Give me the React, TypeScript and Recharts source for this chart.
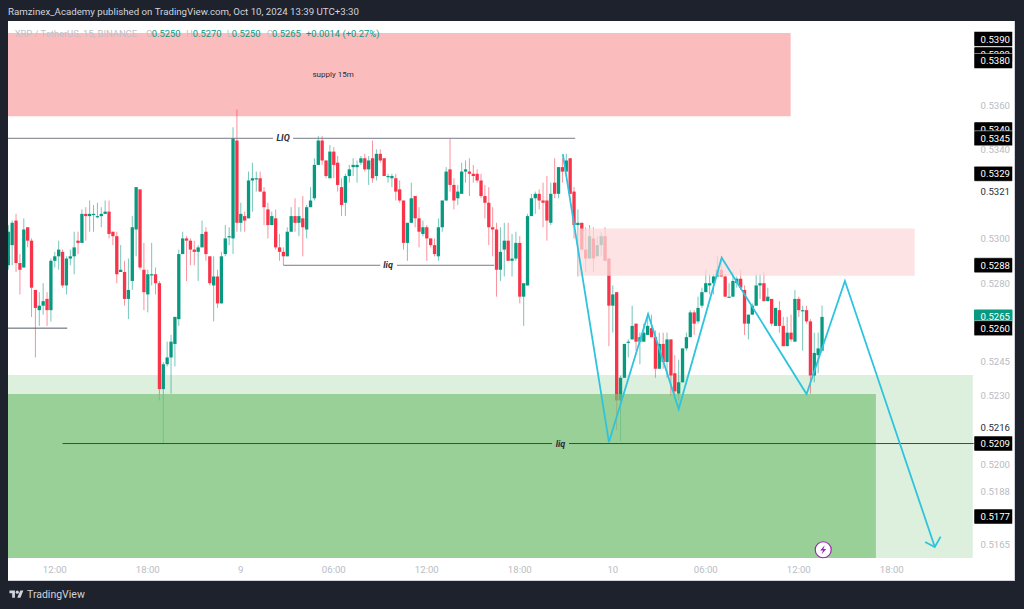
import {
  Bar,
  ComposedChart,
  Label,
  Line,
  ReferenceArea,
  ReferenceDot,
  ReferenceLine,
  XAxis,
  YAxis,
} from 'recharts';

// XRP/USDT 15m candles, prices in 1/10000 USDT
const opens = [
  5288, 5297, 5308, 5289, 5287, 5305, 5299, 5277, 5268, 5270,
  5273, 5268, 5290, 5292, 5294, 5279, 5291, 5292, 5299, 5298,
  5311, 5310, 5311, 5310, 5310, 5311, 5312, 5303, 5301, 5285,
  5285, 5273, 5281, 5304, 5322, 5286, 5275, 5284, 5284, 5280,
  5233, 5244, 5247, 5253, 5264, 5293, 5300, 5299, 5295, 5294,
  5296, 5303, 5292, 5279, 5283, 5271, 5293, 5301, 5300, 5344,
  5307, 5310, 5309, 5326, 5327, 5327, 5321, 5313, 5306, 5309,
  5296, 5294, 5292, 5303, 5310, 5307, 5309, 5304, 5314, 5318,
  5333, 5344, 5335, 5327, 5339, 5334, 5323, 5316, 5328, 5332,
  5332, 5334, 5336, 5331, 5336, 5328, 5338, 5336, 5328, 5327,
  5327, 5322, 5317, 5298, 5307, 5319, 5309, 5302, 5305, 5300,
  5297, 5292, 5305, 5317, 5331, 5324, 5318, 5320, 5330, 5330,
  5329, 5329, 5326, 5319, 5316, 5305, 5304, 5286, 5295, 5299,
  5290, 5291, 5298, 5274, 5279, 5310, 5318, 5320, 5317, 5317,
  5307, 5325, 5320, 5332, 5330, 5336, 5321, 5306, 5307, 5295,
  5291, 5300, 5292, 5297, 5301, 5291, 5270, 5276, 5228, 5238,
  5254, 5255, 5262, 5254, 5254, 5257, 5260, 5256, 5242, 5253,
  5245, 5255, 5240, 5231, 5236, 5251, 5256, 5267, 5263, 5270,
  5276, 5279, 5280, 5283, 5286, 5283, 5274, 5274, 5280, 5282,
  5277, 5262, 5266, 5270, 5279, 5280, 5272, 5273, 5261, 5268,
  5261, 5252, 5258, 5254, 5273, 5268, 5268, 5263, 5239, 5248, 5250,
];
const highs = [
  5306, 5308, 5311, 5293, 5309, 5305, 5300, 5277, 5276, 5280,
  5276, 5291, 5294, 5299, 5295, 5292, 5295, 5303, 5303, 5313,
  5314, 5317, 5315, 5316, 5314, 5317, 5317, 5303, 5303, 5297,
  5290, 5291, 5310, 5323, 5322, 5298, 5286, 5298, 5287, 5281,
  5245, 5254, 5257, 5265, 5295, 5303, 5301, 5300, 5299, 5297,
  5308, 5305, 5292, 5292, 5286, 5294, 5306, 5305, 5350, 5358,
  5316, 5312, 5330, 5334, 5330, 5330, 5323, 5316, 5312, 5313,
  5302, 5296, 5305, 5314, 5318, 5314, 5319, 5315, 5323, 5336,
  5346, 5346, 5335, 5342, 5341, 5337, 5327, 5329, 5333, 5336,
  5335, 5337, 5338, 5337, 5344, 5340, 5340, 5336, 5329, 5329,
  5329, 5326, 5317, 5307, 5325, 5319, 5314, 5308, 5306, 5300,
  5300, 5309, 5317, 5332, 5345, 5327, 5324, 5334, 5335, 5336,
  5333, 5331, 5329, 5324, 5323, 5314, 5307, 5305, 5307, 5307,
  5302, 5303, 5301, 5280, 5311, 5320, 5321, 5322, 5325, 5328,
  5325, 5336, 5332, 5336, 5338, 5336, 5323, 5313, 5307, 5305,
  5306, 5305, 5301, 5303, 5305, 5291, 5279, 5276, 5239, 5253,
  5255, 5270, 5262, 5258, 5262, 5266, 5266, 5259, 5258, 5258,
  5258, 5255, 5248, 5246, 5251, 5258, 5268, 5268, 5274, 5278,
  5286, 5284, 5284, 5292, 5292, 5284, 5280, 5285, 5283, 5286,
  5279, 5266, 5271, 5284, 5284, 5285, 5278, 5273, 5269, 5272,
  5265, 5265, 5266, 5277, 5274, 5270, 5270, 5264, 5258, 5258, 5270,
];
const lows = [
  5286, 5288, 5285, 5275, 5287, 5296, 5265, 5247, 5261, 5266,
  5261, 5263, 5287, 5286, 5278, 5275, 5288, 5284, 5293, 5298,
  5299, 5303, 5303, 5309, 5305, 5311, 5300, 5297, 5280, 5285,
  5270, 5264, 5277, 5292, 5286, 5268, 5267, 5279, 5275, 5228,
  5209, 5243, 5231, 5243, 5261, 5293, 5281, 5288, 5288, 5281,
  5296, 5290, 5279, 5263, 5269, 5271, 5292, 5297, 5293, 5303,
  5303, 5303, 5309, 5312, 5321, 5321, 5306, 5300, 5306, 5295,
  5290, 5288, 5292, 5303, 5303, 5301, 5292, 5300, 5314, 5317,
  5333, 5333, 5327, 5327, 5327, 5321, 5310, 5310, 5325, 5328,
  5325, 5333, 5330, 5324, 5325, 5326, 5334, 5328, 5325, 5323,
  5317, 5316, 5295, 5290, 5307, 5305, 5296, 5301, 5290, 5296,
  5292, 5290, 5303, 5317, 5321, 5313, 5315, 5320, 5325, 5319,
  5325, 5325, 5318, 5309, 5297, 5292, 5274, 5281, 5283, 5290,
  5283, 5290, 5271, 5261, 5279, 5310, 5311, 5313, 5305, 5299,
  5306, 5318, 5318, 5325, 5330, 5320, 5300, 5283, 5295, 5285,
  5291, 5285, 5292, 5292, 5290, 5252, 5258, 5215, 5210, 5238,
  5247, 5255, 5250, 5244, 5254, 5257, 5256, 5238, 5242, 5242,
  5238, 5230, 5230, 5228, 5236, 5250, 5256, 5257, 5262, 5269,
  5276, 5275, 5275, 5283, 5283, 5274, 5274, 5274, 5278, 5277,
  5257, 5255, 5266, 5270, 5273, 5272, 5272, 5261, 5261, 5258,
  5252, 5252, 5254, 5254, 5265, 5250, 5262, 5231, 5236, 5240, 5250,
];
const closes = [
  5303, 5307, 5289, 5286, 5304, 5299, 5278, 5269, 5270, 5272,
  5268, 5290, 5292, 5295, 5279, 5291, 5292, 5296, 5298, 5311,
  5310, 5311, 5311, 5310, 5311, 5312, 5302, 5301, 5284, 5286,
  5273, 5277, 5305, 5323, 5287, 5276, 5284, 5284, 5280, 5233,
  5244, 5247, 5254, 5265, 5293, 5300, 5299, 5295, 5294, 5296,
  5302, 5293, 5280, 5283, 5271, 5292, 5300, 5301, 5345, 5307,
  5311, 5308, 5326, 5327, 5327, 5321, 5314, 5306, 5310, 5296,
  5294, 5292, 5303, 5310, 5307, 5310, 5305, 5314, 5317, 5333,
  5344, 5335, 5328, 5339, 5333, 5324, 5315, 5328, 5331, 5333,
  5333, 5336, 5331, 5335, 5327, 5338, 5335, 5328, 5328, 5328,
  5321, 5317, 5298, 5307, 5318, 5309, 5303, 5305, 5300, 5297,
  5293, 5305, 5317, 5330, 5324, 5317, 5321, 5330, 5331, 5329,
  5328, 5326, 5319, 5316, 5305, 5304, 5286, 5294, 5299, 5290,
  5291, 5298, 5274, 5280, 5310, 5318, 5320, 5317, 5316, 5308,
  5320, 5320, 5332, 5330, 5335, 5320, 5306, 5307, 5295, 5291,
  5301, 5291, 5297, 5301, 5290, 5270, 5275, 5228, 5238, 5253,
  5254, 5261, 5254, 5256, 5258, 5261, 5256, 5242, 5253, 5245,
  5255, 5239, 5232, 5236, 5251, 5256, 5267, 5262, 5269, 5276,
  5280, 5280, 5283, 5286, 5283, 5274, 5274, 5281, 5282, 5278,
  5262, 5266, 5270, 5279, 5280, 5272, 5274, 5262, 5269, 5261,
  5252, 5258, 5255, 5273, 5268, 5268, 5263, 5239, 5249, 5251, 5265,
];

const candles = opens.map((open, slot) => ({
  slot,
  open: open / 10000,
  close: closes[slot] / 10000,
  range: [lows[slot] / 10000, highs[slot] / 10000],
}));

// time axis: one slot per 15 minutes
const timeSlots = [12, 36, 60, 84, 108, 132, 156, 180, 204, 228];
const timeLabels = ['12:00', '18:00', '9', '06:00', '12:00', '18:00', '10', '06:00', '12:00', '18:00'];

// price axis, in drawing order (later ones cover earlier ones)
const plainTicks = [0.536, 0.534, 0.53, 0.528, 0.5245, 0.523, 0.52, 0.5188, 0.5165];
const darkTicks = [0.5321, 0.5216];
const lastPrice = 0.5265;
const boxTicks = [0.539, 0.5383, 0.538, 0.5349, 0.5345, 0.5329, 0.5288, 0.526, 0.5209, 0.5177];
const priceTicks = [...plainTicks, ...darkTicks, lastPrice, ...boxTicks];

// hand drawn wave and arrow head
const wavePoints = [
  { slot: 143.1, price: 0.53379 },
  { slot: 155, price: 0.52096 },
  { slot: 165.1, price: 0.52663 },
  { slot: 173, price: 0.52242 },
  { slot: 184.1, price: 0.52914 },
  { slot: 206, price: 0.52308 },
  { slot: 215.9, price: 0.5281 },
  { slot: 239.1, price: 0.51637 },
];
const arrowPoints = [
  { slot: 236.6, price: 0.51659 },
  { slot: 239.1, price: 0.51637 },
  { slot: 240.6, price: 0.51682 },
];

const SLOT_MIN = -0.08;
const SLOT_MAX = 249.47;
const PRICE_MIN = 0.51589;
const PRICE_MAX = 0.53982;

const UP = '#089981';
const DOWN = '#f7344a';
const WAVE = '#2fc4de';
const TEXT_FONT = 'Roboto, sans-serif';
const BODY_WIDTH = 3.3;

function Candle(props: any) {
  const { x, y, width, height, payload } = props;
  const [low, high] = payload.range;
  const wickTop = Math.min(y, y + height);
  const wickLength = Math.abs(height);
  // the axis is logarithmic, so place the body on the same log ratio
  const at = (p: number) => wickTop + (wickLength * Math.log(high / p)) / Math.log(high / low);
  const color = payload.close >= payload.open ? UP : DOWN;
  const top = at(Math.max(payload.open, payload.close));
  const bottom = at(Math.min(payload.open, payload.close));
  const mid = x + width / 2;
  return (
    <g>
      <line x1={mid} x2={mid} y1={wickTop} y2={wickTop + wickLength} stroke={color} strokeOpacity={0.55} />
      <rect x={mid - BODY_WIDTH / 2} y={top} width={BODY_WIDTH} height={Math.max(bottom - top, 1.2)} fill={color} />
    </g>
  );
}

function PriceTick(props: any) {
  const { x, y, payload } = props;
  const value = payload.value as number;
  const boxed = boxTicks.includes(value);
  const isLast = value === lastPrice;
  const left = x - 1;
  let color = '#b9bcc4';
  if (boxed || isLast) color = '#ffffff';
  else if (darkTicks.includes(value)) color = '#2a2e39';
  return (
    <g>
      {(boxed || isLast) && (
        <rect
          x={left}
          y={y - 7.5}
          width={38.5}
          height={15}
          rx={1}
          fill={isLast ? UP : '#000000'}
          stroke={isLast ? 'none' : '#ffffff'}
          strokeWidth={0.5}
        />
      )}
      <text x={left + 6.5} y={y + 3.5} fontSize={9.6} fill={color} fontFamily={TEXT_FONT}>
        {value.toFixed(4)}
      </text>
    </g>
  );
}

function BoltMarker(props: any) {
  const { cx, cy } = props;
  return (
    <g>
      <circle cx={cx} cy={cy} r={8} fill="#ffffff" stroke="#9c27b0" strokeWidth={1.2} />
      <path
        d={`M${cx + 1.5} ${cy - 4.5} L${cx - 3} ${cy + 0.8} H${cx - 0.2} L${cx - 1.5} ${cy + 4.5} L${cx + 3} ${cy - 0.8} H${cx + 0.2} Z`}
        fill="#9c27b0"
      />
    </g>
  );
}

const legendItem = (left: number, text: string, color: string) => (
  <span key={left + text} style={{ position: 'absolute', left, top: 7, color, whiteSpace: 'nowrap' }}>
    {text}
  </span>
);

const noteStyle = { fontSize: 9, fontWeight: 700, fontStyle: 'italic', fill: '#2a2e39' };

export default function App() {
  return (
    <div
      style={{
        position: 'fixed',
        left: 0,
        top: 0,
        width: 1024,
        height: 609,
        background: '#1e222d',
        overflow: 'hidden',
        fontFamily: TEXT_FONT,
      }}
    >
      <div style={{ position: 'absolute', left: 8, top: 6, fontSize: 9.7, color: '#d1d4dc', whiteSpace: 'nowrap' }}>
        Ramzinex_Academy published on TradingView.com, Oct 10, 2024 13:39 UTC+3:30
      </div>

      <div
        style={{
          position: 'absolute',
          left: 8,
          top: 21,
          width: 1007,
          height: 560,
          background: '#ffffff',
          overflow: 'hidden',
          boxShadow: 'inset -1px -1px 0 #d1d4dc',
        }}
      >
        <ComposedChart
          width={1007}
          height={560}
          data={candles}
          margin={{ top: 0, right: 0, bottom: 0, left: 0 }}
        >
          <XAxis
            dataKey="slot"
            type="number"
            domain={[SLOT_MIN, SLOT_MAX]}
            allowDataOverflow
            ticks={timeSlots}
            interval={0}
            height={23}
            axisLine={false}
            tickLine={false}
            tick={{ fontSize: 9.6, fill: '#b9bcc4', fontFamily: TEXT_FONT }}
            tickFormatter={(slot: number) => timeLabels[timeSlots.indexOf(slot)]}
          />
          <YAxis
            orientation="right"
            type="number"
            scale="log"
            domain={[PRICE_MIN, PRICE_MAX]}
            allowDataOverflow
            ticks={priceTicks}
            interval={0}
            width={40}
            axisLine={false}
            tickLine={false}
            tickSize={0}
            tickMargin={0}
            tick={<PriceTick />}
          />

          <ReferenceArea x1={SLOT_MIN} x2={201.9} y1={0.5355} y2={0.53927} fill="#fbbcbd" fillOpacity={1} zIndex={100} />
          <ReferenceArea x1={SLOT_MIN} x2={248.9} y1={PRICE_MIN} y2={0.52392} fill="#ddf0dd" fillOpacity={1} zIndex={100} />

          <Bar dataKey="range" barSize={3} shape={<Candle />} isAnimationActive={false} zIndex={300} />

          <ReferenceArea x1={147} x2={233.9} y1={0.52833} y2={0.53045} fill="#fcdada" fillOpacity={0.75} zIndex={350} />
          <ReferenceArea x1={SLOT_MIN} x2={223.9} y1={PRICE_MIN} y2={0.52308} fill="#7ac27a" fillOpacity={0.7} zIndex={350} />

          <ReferenceLine segment={[{ x: SLOT_MIN, y: 0.5345 }, { x: 68.3, y: 0.5345 }]} stroke="#787b86" zIndex={360} />
          <ReferenceLine segment={[{ x: 73.5, y: 0.5345 }, { x: 146.3, y: 0.5345 }]} stroke="#787b86" zIndex={360} />
          <ReferenceLine segment={[{ x: 71, y: 0.5288 }, { x: 96, y: 0.5288 }]} stroke="#787b86" zIndex={360} />
          <ReferenceLine segment={[{ x: 100.3, y: 0.5288 }, { x: 125.4, y: 0.5288 }]} stroke="#787b86" zIndex={360} />
          <ReferenceLine segment={[{ x: SLOT_MIN, y: 0.526 }, { x: 15.2, y: 0.526 }]} stroke="#555a66" zIndex={360} />
          <ReferenceLine segment={[{ x: 14, y: 0.5209 }, { x: 140.3, y: 0.5209 }]} stroke="#3c4a40" zIndex={360} />
          <ReferenceLine segment={[{ x: 144.7, y: 0.5209 }, { x: SLOT_MAX, y: 0.5209 }]} stroke="#3c4a40" zIndex={360} />

          <Line data={wavePoints} dataKey="price" stroke={WAVE} strokeWidth={1.8} dot={false} isAnimationActive={false} zIndex={400} />
          <Line data={arrowPoints} dataKey="price" stroke={WAVE} strokeWidth={1.8} dot={false} isAnimationActive={false} zIndex={400} />

          <ReferenceDot x={70.9} y={0.5345} r={0} zIndex={500}>
            <Label value="LIQ" position="center" style={noteStyle} />
          </ReferenceDot>
          <ReferenceDot x={98} y={0.5288} r={0} zIndex={500}>
            <Label value="liq" position="center" style={noteStyle} />
          </ReferenceDot>
          <ReferenceDot x={142.5} y={0.5209} r={0} zIndex={500}>
            <Label value="liq" position="center" style={noteStyle} />
          </ReferenceDot>
          <ReferenceDot x={83.8} y={0.53741} r={0} zIndex={500}>
            <Label value="supply 15m" position="center" style={{ fontSize: 8, fill: '#2a2e39' }} />
          </ReferenceDot>
          <ReferenceDot x={210.3} y={0.51625} shape={<BoltMarker />} zIndex={500} />
        </ComposedChart>

        <div style={{ position: 'absolute', left: 0, top: 0, fontSize: 9.4, pointerEvents: 'none' }}>
          {legendItem(6.7, 'XRP / TetherUS, 15, BINANCE', '#bfc1c8')}
          {legendItem(138, 'O', '#bfc1c8')}
          {legendItem(143.7, '0.5250', UP)}
          {legendItem(178, 'H', '#bfc1c8')}
          {legendItem(184.7, '0.5270', UP)}
          {legendItem(218.7, 'L', '#bfc1c8')}
          {legendItem(223.7, '0.5250', UP)}
          {legendItem(258.7, 'C', '#bfc1c8')}
          {legendItem(264, '0.5265', UP)}
          {legendItem(298, '+0.0014 (+0.27%)', UP)}
        </div>
      </div>

      <svg width={17} height={11} viewBox="0 0 36 28" style={{ position: 'absolute', left: 8, top: 589 }}>
        <path d="M14 22H7V11H0V4h14v18zM28 22h-8l7.5-18h8L28 22z" fill="#d1d4dc" />
        <circle cx="20" cy="8" r="4" fill="#d1d4dc" />
      </svg>
      <div style={{ position: 'absolute', left: 27, top: 588, fontSize: 10.5, color: '#d1d4dc', whiteSpace: 'nowrap' }}>
        TradingView
      </div>
    </div>
  );
}
